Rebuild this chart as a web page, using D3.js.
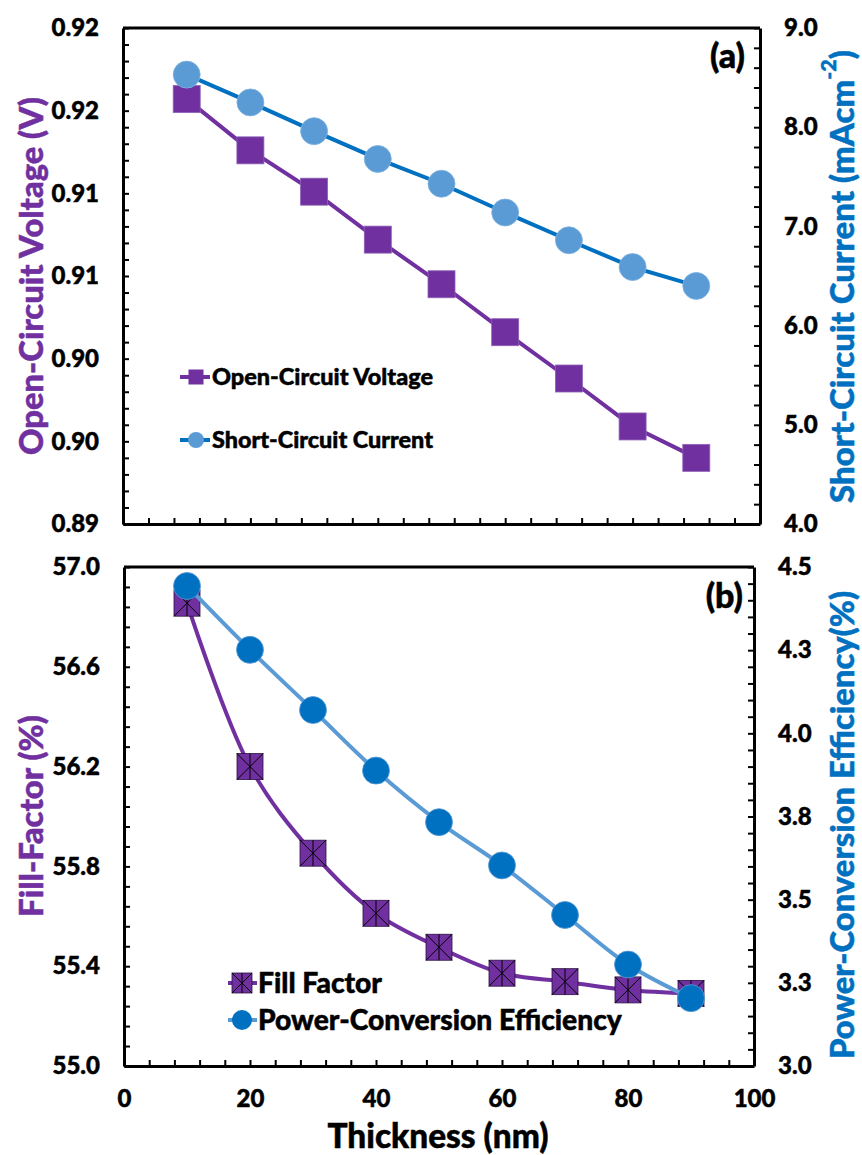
<!DOCTYPE html>
<html>
<head>
<meta charset="utf-8">
<script src="https://cdn.jsdelivr.net/npm/d3@7"></script>
<style>
  html, body { margin: 0; padding: 0; background: #fff; }
  svg text { font-family: Lato, "Open Sans", sans-serif; font-weight: 900; }
</style>
</head>
<body>
<div id="chart"></div>
<script>
// thickness of the layer (nm)
const thickness = [10, 20, 30, 40, 50, 60, 70, 80, 90];

// panel (a)
const vocValues = [0.9207, 0.9176, 0.9151, 0.9122, 0.9095, 0.9066, 0.9038, 0.9009, 0.8990];
const jscValues = [8.53, 8.25, 7.96, 7.68, 7.43, 7.14, 6.86, 6.59, 6.40];

// panel (b)
const ffValues = [56.855, 56.20, 55.853, 55.612, 55.476, 55.372, 55.338, 55.305, 55.291];
const pceValues = [4.443, 4.251, 4.070, 3.888, 3.733, 3.603, 3.454, 3.305, 3.204];

// tick labels as printed on the figure
const xTicks = [0, 20, 40, 60, 80, 100];
const xTickLabels = ["0", "20", "40", "60", "80", "100"];
const vocTicks = [0.895, 0.900, 0.905, 0.910, 0.915, 0.920, 0.925];
const vocTickLabels = ["0.89", "0.90", "0.90", "0.91", "0.91", "0.92", "0.92"];
const jscTicks = [4, 5, 6, 7, 8, 9];
const jscTickLabels = ["4.0", "5.0", "6.0", "7.0", "8.0", "9.0"];
const ffTicks = [55.0, 55.4, 55.8, 56.2, 56.6, 57.0];
const ffTickLabels = ["55.0", "55.4", "55.8", "56.2", "56.6", "57.0"];
const pceTicks = [3.0, 3.25, 3.5, 3.75, 4.0, 4.25, 4.5];
const pceTickLabels = ["3.0", "3.3", "3.5", "3.8", "4.0", "4.3", "4.5"];

const PURPLE = "#7030A0";
const DARK_BLUE = "#0070C0";
const LIGHT_BLUE = "#5B9BD5";

const svg = d3.select("#chart").append("svg")
  .attr("width", 862)
  .attr("height", 1155);

// minor ticks: 5 per major interval
function minorTicks(majors) {
  const out = [];
  for (let i = 0; i < majors.length - 1; i++) {
    const step = (majors[i + 1] - majors[i]) / 5;
    for (let k = 1; k < 5; k++) out.push(majors[i] + k * step);
  }
  return out;
}

// thicken the glyphs a little, Calibri bold looks heavier than Lato
function heavy(sel, color) {
  return sel.attr("stroke", color).attr("stroke-width", 0.5).attr("paint-order", "stroke");
}

// scale the font size so that the text is `len` px long
function fitText(t, len) {
  t.style("font-size", "30px");
  const w = t.node().getComputedTextLength();
  t.style("font-size", (30 * len / w).toFixed(2) + "px");
  return t;
}

function styleAxis(g) {
  g.select(".domain").attr("stroke", "#000").attr("stroke-width", 3);
  g.selectAll(".tick line").attr("stroke", "#000").attr("stroke-width", 2);
  heavy(g.selectAll(".tick text").attr("fill", "#000").style("font-size", "24px"), "#000");
}

function drawAxes(p) {
  const {x, yL, yR, left, right, top, bottom} = p;

  // frame top line
  svg.append("line")
    .attr("x1", left).attr("x2", right).attr("y1", top).attr("y2", top)
    .attr("stroke", "#000").attr("stroke-width", 3);

  // x axis (ticks inward)
  const xAll = xTicks.concat(minorTicks(xTicks));
  const gx = svg.append("g").attr("transform", `translate(0,${bottom})`)
    .call(d3.axisBottom(x).tickValues(xAll).tickSizeInner(-6).tickSizeOuter(0)
      .tickPadding(24)
      .tickFormat(d => {
        const i = xTicks.indexOf(d);
        return p.showXLabels && i >= 0 ? xTickLabels[i] : "";
      }));
  styleAxis(gx);

  // left axis
  const gl = svg.append("g").attr("transform", `translate(${left},0)`)
    .call(d3.axisLeft(yL).tickValues(p.lTicks.concat(minorTicks(p.lTicks)))
      .tickSizeInner(-6).tickSizeOuter(0).tickPadding(24)
      .tickFormat(d => {
        const i = p.lTicks.indexOf(d);
        return i >= 0 ? p.lLabels[i] : "";
      }));
  styleAxis(gl);

  // right axis
  const gr = svg.append("g").attr("transform", `translate(${right},0)`)
    .call(d3.axisRight(yR).tickValues(p.rTicks.concat(minorTicks(p.rTicks)))
      .tickSizeInner(-6).tickSizeOuter(0).tickPadding(24)
      .tickFormat(d => {
        const i = p.rTicks.indexOf(d);
        return i >= 0 ? p.rLabels[i] : "";
      }));
  styleAxis(gr);
}

// ---------- panel (a) ----------
const pa = {left: 123, right: 760, top: 28, bottom: 524, showXLabels: false,
  lTicks: vocTicks, lLabels: vocTickLabels, rTicks: jscTicks, rLabels: jscTickLabels};
pa.x = d3.scaleLinear().domain([0, 100]).range([pa.left, pa.right]);
pa.yL = d3.scaleLinear().domain([0.895, 0.925]).range([pa.bottom, pa.top]);
pa.yR = d3.scaleLinear().domain([4, 9]).range([pa.bottom, pa.top]);
drawAxes(pa);

const vocLine = d3.line().x((d, i) => pa.x(thickness[i])).y(d => pa.yL(d));
svg.append("path").datum(vocValues).attr("d", vocLine)
  .attr("fill", "none").attr("stroke", PURPLE).attr("stroke-width", 4);
svg.selectAll(".voc").data(vocValues).enter().append("rect")
  .attr("x", (d, i) => pa.x(thickness[i]) - 13.5)
  .attr("y", d => pa.yL(d) - 13.5)
  .attr("width", 27).attr("height", 27)
  .attr("fill", PURPLE).attr("stroke", "#8e62b6").attr("stroke-width", 0.8);

const jscLine = d3.line().x((d, i) => pa.x(thickness[i])).y(d => pa.yR(d));
svg.append("path").datum(jscValues).attr("d", jscLine)
  .attr("fill", "none").attr("stroke", DARK_BLUE).attr("stroke-width", 4);
svg.selectAll(".jsc").data(jscValues).enter().append("circle")
  .attr("cx", (d, i) => pa.x(thickness[i]))
  .attr("cy", d => pa.yR(d))
  .attr("r", 13.5)
  .attr("fill", LIGHT_BLUE).attr("stroke", "#7fb2e0").attr("stroke-width", 0.8);

// legend (a)
const legA = svg.append("g");
legA.append("line").attr("x1", 180).attr("x2", 210).attr("y1", 377).attr("y2", 377)
  .attr("stroke", PURPLE).attr("stroke-width", 4);
legA.append("rect").attr("x", 188.5).attr("y", 369.5).attr("width", 15).attr("height", 15)
  .attr("fill", PURPLE);
fitText(heavy(legA.append("text").attr("x", 212).attr("y", 385)
  .text("Open-Circuit Voltage"), "#000"), 221);
legA.append("line").attr("x1", 180).attr("x2", 210).attr("y1", 440).attr("y2", 440)
  .attr("stroke", DARK_BLUE).attr("stroke-width", 4);
legA.append("circle").attr("cx", 196).attr("cy", 440).attr("r", 8).attr("fill", LIGHT_BLUE);
fitText(heavy(legA.append("text").attr("x", 212).attr("y", 448)
  .text("Short-Circuit Current"), "#000"), 221);

heavy(svg.append("text").attr("x", 745).attr("y", 68).attr("text-anchor", "end")
  .style("font-size", "34px").text("(a)"), "#000");

// ---------- panel (b) ----------
const pb = {left: 124, right: 754, top: 567, bottom: 1066, showXLabels: true,
  lTicks: ffTicks, lLabels: ffTickLabels, rTicks: pceTicks, rLabels: pceTickLabels};
pb.x = d3.scaleLinear().domain([0, 100]).range([pb.left, pb.right]);
pb.yL = d3.scaleLinear().domain([55, 57]).range([pb.bottom, pb.top]);
pb.yR = d3.scaleLinear().domain([3, 4.5]).range([pb.bottom, pb.top]);
drawAxes(pb);

function starSquare(g, cx, cy, s) {
  const h = s / 2;
  g.append("rect").attr("x", cx - h).attr("y", cy - h).attr("width", s).attr("height", s)
    .attr("fill", PURPLE).attr("stroke", "#2b1240").attr("stroke-width", 0.8);
  const p = `M${cx - h},${cy - h}L${cx + h},${cy + h}M${cx + h},${cy - h}L${cx - h},${cy + h}M${cx},${cy - h}L${cx},${cy + h}`;
  g.append("path").attr("d", p).attr("stroke", "#000").attr("stroke-width", 1).attr("fill", "none");
}

const ffLine = d3.line().curve(d3.curveCatmullRom.alpha(0.5))
  .x((d, i) => pb.x(thickness[i])).y(d => pb.yL(d));
svg.append("path").datum(ffValues).attr("d", ffLine)
  .attr("fill", "none").attr("stroke", PURPLE).attr("stroke-width", 4);
const ffG = svg.append("g");
ffValues.forEach((d, i) => starSquare(ffG, pb.x(thickness[i]), pb.yL(d), 26));

const pceLine = d3.line().curve(d3.curveCatmullRom.alpha(0.5))
  .x((d, i) => pb.x(thickness[i])).y(d => pb.yR(d));
svg.append("path").datum(pceValues).attr("d", pceLine)
  .attr("fill", "none").attr("stroke", LIGHT_BLUE).attr("stroke-width", 4);
svg.selectAll(".pce").data(pceValues).enter().append("circle")
  .attr("cx", (d, i) => pb.x(thickness[i]))
  .attr("cy", d => pb.yR(d))
  .attr("r", 13.5)
  .attr("fill", DARK_BLUE).attr("stroke", LIGHT_BLUE).attr("stroke-width", 0.8);

// legend (b)
const legB = svg.append("g");
legB.append("line").attr("x1", 228).attr("x2", 257).attr("y1", 983).attr("y2", 983)
  .attr("stroke", PURPLE).attr("stroke-width", 4);
starSquare(legB, 242, 983, 20);
fitText(heavy(legB.append("text").attr("x", 258).attr("y", 993)
  .text("Fill Factor"), "#000"), 124);
legB.append("line").attr("x1", 228).attr("x2", 257).attr("y1", 1020).attr("y2", 1020)
  .attr("stroke", LIGHT_BLUE).attr("stroke-width", 4);
legB.append("circle").attr("cx", 242).attr("cy", 1020).attr("r", 10).attr("fill", DARK_BLUE);
fitText(heavy(legB.append("text").attr("x", 258).attr("y", 1030)
  .text("Power-Conversion Efficiency"), "#000"), 364);

heavy(svg.append("text").attr("x", 743).attr("y", 608).attr("text-anchor", "end")
  .style("font-size", "34px").text("(b)"), "#000");

// ---------- axis titles ----------
function vTitle(cx, cy, color, len, build) {
  const t = svg.append("text")
    .attr("transform", `translate(${cx},${cy}) rotate(-90)`)
    .attr("text-anchor", "middle").attr("dominant-baseline", "central")
    .attr("fill", color);
  heavy(t, color);
  build(t);
  return fitText(t, len);
}
vTitle(30, 276, PURPLE, 358, t => t.text("Open-Circuit Voltage (V)"));
vTitle(841, 276.5, DARK_BLUE, 453, t => {
  t.append("tspan").text("Short-Circuit Current (mAcm");
  t.append("tspan").attr("baseline-shift", "super").style("font-size", "0.65em").text("-2");
  t.append("tspan").text(")");
});
vTitle(30, 816, PURPLE, 202, t => t.text("Fill-Factor (%)"));
vTitle(841, 825, DARK_BLUE, 468, t => t.text("Power-Conversion Efficiency(%)"));

fitText(heavy(svg.append("text").attr("x", 438).attr("y", 1148).attr("text-anchor", "middle")
  .text("Thickness (nm)"), "#000"), 221);
</script>
</body>
</html>
